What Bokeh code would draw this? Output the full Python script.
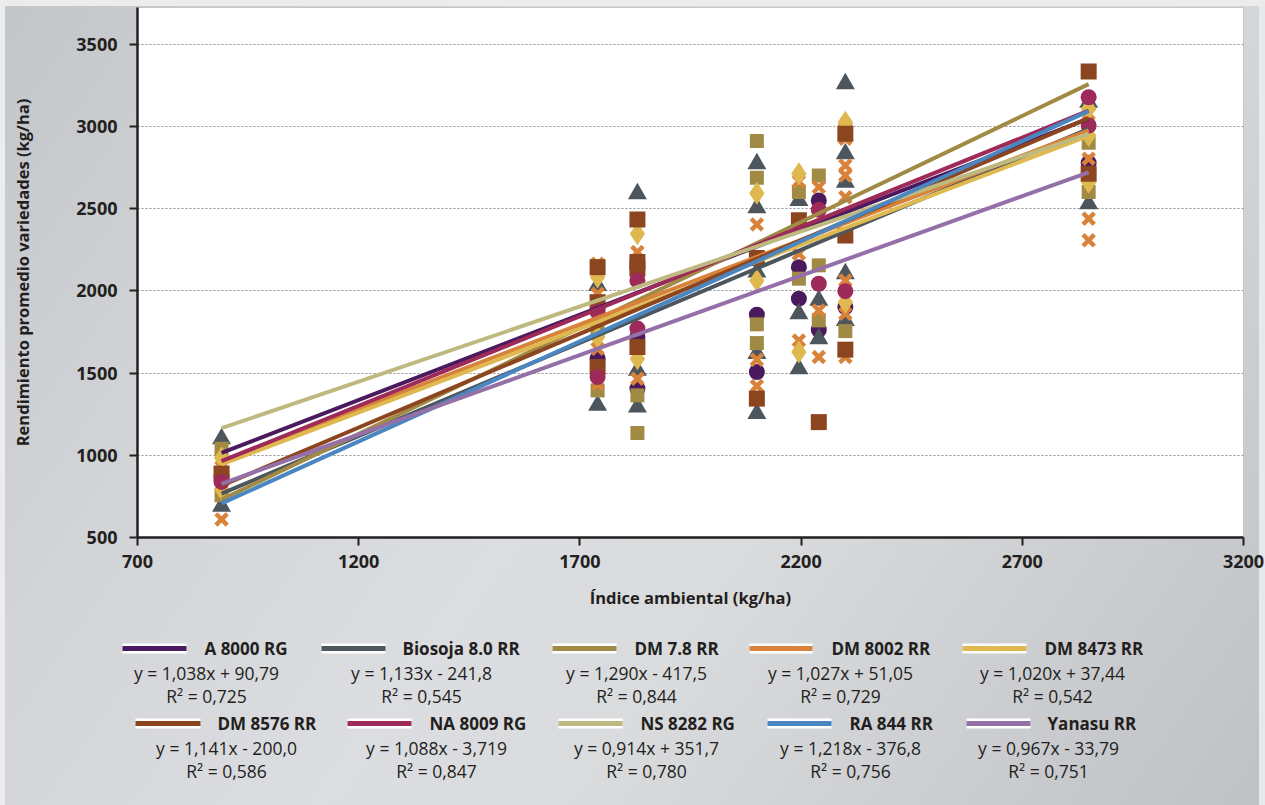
from bokeh.plotting import figure
from bokeh.models import Range1d, FixedTicker
from bokeh.layouts import column
from bokeh.embed import file_html
from bokeh.resources import INLINE
from bokeh.core.properties import value

# ---------------- data ----------------
series_names = ["A 8000 RG", "Biosoja 8.0 RR", "DM 7.8 RR", "DM 8002 RR", "DM 8473 RR",
                "DM 8576 RR", "NA 8009 RG", "NS 8282 RG", "RA 844 RR", "Yanasu RR"]
slopes = [1.038, 1.133, 1.290, 1.027, 1.020, 1.141, 1.088, 0.914, 1.218, 0.967]
intercepts = [90.79, -241.8, -417.5, 51.05, 37.44, -200.0, -3.719, 351.7, -376.8, -33.79]
equations = ["y = 1,038x + 90,79", "y = 1,133x - 241,8", "y = 1,290x - 417,5",
             "y = 1,027x + 51,05", "y = 1,020x + 37,44", "y = 1,141x - 200,0",
             "y = 1,088x - 3,719", "y = 0,914x + 351,7", "y = 1,218x - 376,8",
             "y = 0,967x - 33,79"]
r2_labels = ["R² = 0,725", "R² = 0,545", "R² = 0,844", "R² = 0,729", "R² = 0,542",
             "R² = 0,586", "R² = 0,847", "R² = 0,780", "R² = 0,756", "R² = 0,751"]
colors = ["#4b1a5e", "#4e565d", "#a08a44", "#d8823a", "#dfb94f",
          "#8c461f", "#9d2a58", "#bdb97f", "#4a86c1", "#9570a8"]
index_min = 890
index_max = 2850

a8000_x = [890, 1740, 1830, 1830, 2100, 2100, 2195, 2195, 2240, 2240, 2300, 2850]
a8000_y = [870, 1588, 1720, 1406, 1856, 1507, 2145, 1953, 2551, 1764, 1902, 2780]

biosoja_x = [890, 890, 1740, 1740, 1830, 1830, 1830, 2100, 2100, 2100, 2100, 2100,
             2195, 2195, 2195, 2240, 2240, 2300, 2300, 2300, 2300, 2300, 2850, 2850]
biosoja_y = [1101, 690, 2034, 1304, 2592, 1517, 1294, 2774, 2506, 2115, 1620, 1254,
             2551, 1862, 1527, 1943, 1710, 3261, 2835, 2662, 2105, 1821, 3149, 2531]

dm78_x = [890, 890, 1740, 1740, 1830, 1830, 2100, 2100, 2100, 2100, 2195, 2195,
          2240, 2240, 2240, 2300, 2300, 2850, 2850]
dm78_y = [1040, 757, 1760, 1395, 1365, 1136, 2912, 2689, 1797, 1683, 2602, 2075,
          2703, 2156, 1821, 2987, 1756, 2902, 2602]

dm8002_x = [890, 890, 1740, 1740, 1740, 1740, 1830, 1830, 1830, 2100, 2100, 2100,
            2195, 2195, 2195, 2240, 2240, 2240, 2300, 2300, 2300, 2300, 2300, 2300,
            2300, 2850, 2850, 2850, 2850]
dm8002_y = [929, 610, 2166, 1983, 1649, 1436, 2237, 2125, 1466, 2405, 1582, 1422,
            2667, 2227, 1699, 2632, 1882, 1598, 2926, 2764, 2703, 2571, 2064, 1862,
            1598, 3078, 2805, 2440, 2308]

dm8473_x = [890, 890, 1740, 1740, 1830, 1830, 2100, 2100, 2195, 2195, 2300, 2300,
            2850, 2850, 2850]
dm8473_y = [983, 793, 2085, 1720, 2349, 1588, 2595, 2064, 2713, 1628, 3027, 1932,
            3109, 2946, 2662]

dm8576_x = [890, 1740, 1740, 1740, 1830, 1830, 1830, 1830, 2100, 2100, 2195, 2240,
            2300, 2300, 2300, 2850, 2850]
dm8576_y = [890, 2145, 1932, 1537, 2435, 2176, 2136, 1659, 2200, 1345, 2430, 1202,
            2957, 2338, 1643, 3336, 2713]

na8009_x = [890, 1740, 1740, 1830, 1830, 2240, 2240, 2300, 2850, 2850]
na8009_y = [838, 1872, 1476, 2064, 1771, 2494, 2044, 1999, 3179, 3007]

x_ticks = [700, 1200, 1700, 2200, 2700, 3200]
y_ticks = [500, 1000, 1500, 2000, 2500, 3000, 3500]

# ---------------- style ----------------
FONT = "Open Sans"
TXT = "#231f20"
GRADIENT = ("linear-gradient(125deg, #c3c6c9 0%, #d2d4d7 25%, #dcdde0 48%, "
            "#d9dbdd 62%, #c9cbce 85%, #bfc2c5 100%)")

W = 1265
H_MAIN = 620
H_LEG = 185

p = figure(width=W, height=H_MAIN, output_backend="svg", toolbar_location=None,
           x_range=Range1d(700, 3200), y_range=Range1d(500, 3725),
           min_border_left=137, min_border_right=22, min_border_top=7,
           min_border_bottom=83)
p.frame_align = False
p.border_fill_color = None
p.background_fill_color = "white"
p.outline_line_color = "#c4c8cc"
p.outline_line_width = 1

p.xgrid.visible = False
p.ygrid.ticker = FixedTicker(ticks=y_ticks)
p.ygrid.grid_line_color = "#8f8f8f"
p.ygrid.grid_line_dash = "2 2"
p.ygrid.grid_line_width = 1

p.xaxis.ticker = FixedTicker(ticks=x_ticks)
p.yaxis.ticker = FixedTicker(ticks=y_ticks)
for ax in (p.xaxis[0], p.yaxis[0]):
    ax.axis_line_color = TXT
    ax.axis_line_width = 2.5
    ax.major_tick_line_color = TXT
    ax.major_tick_line_width = 2
    ax.major_tick_out = 8
    ax.major_tick_in = 0
    ax.minor_tick_line_color = None
    ax.major_label_text_font = FONT
    ax.major_label_text_font_style = "bold"
    ax.major_label_text_font_size = "18px"
    ax.major_label_text_color = TXT
    ax.axis_label_text_font = FONT
    ax.axis_label_text_font_style = "bold"
    ax.axis_label_text_font_size = "16.5px"
    ax.axis_label_text_color = TXT

p.xaxis.axis_label = "Índice ambiental (kg/ha)"
p.yaxis.axis_label = "Rendimiento promedio variedades (kg/ha)"
p.xaxis.major_label_standoff = 9
p.xaxis.axis_label_standoff = 15
p.yaxis.major_label_standoff = 12
p.yaxis.axis_label_standoff = 39

# markers (series order, later series on top)
p.scatter(a8000_x, a8000_y, marker="circle", size=16, fill_color=colors[0], line_color=None)
p.scatter(biosoja_x, biosoja_y, marker="triangle", size=19, fill_color=colors[1], line_color=None)
p.scatter(dm78_x, dm78_y, marker="square", size=14, fill_color=colors[2], line_color=None)
p.scatter(dm8002_x, dm8002_y, marker="x", size=16, line_color=colors[3], line_width=4.5)
p.scatter(dm8473_x, dm8473_y, marker="diamond", size=23, fill_color=colors[4], line_color=None)
p.scatter(dm8576_x, dm8576_y, marker="square", size=16, fill_color=colors[5], line_color=None)
p.scatter(na8009_x, na8009_y, marker="circle", size=16, fill_color=colors[6], line_color=None)

# linear trend lines from the printed equations
for s, b, c in zip(slopes, intercepts, colors):
    xs = [index_min, index_max]
    ys = [s * index_min + b, s * index_max + b]
    p.line(xs, ys, line_color=c, line_width=4)

# ---------------- legend panel ----------------
leg = figure(width=W, height=H_LEG, output_backend="svg", toolbar_location=None,
             x_axis_type=None, y_axis_type=None,
             x_range=Range1d(0, W), y_range=Range1d(H_MAIN + H_LEG, H_MAIN),
             min_border=0, min_border_left=0, min_border_right=0,
             min_border_top=0, min_border_bottom=0)
leg.frame_align = False
leg.grid.visible = False
leg.outline_line_color = None
leg.border_fill_color = None
leg.background_fill_color = None

sample_x0 = [122, 321, 552, 749, 962, 135, 347, 558, 767, 966]
sample_x1 = [186, 385, 616, 812, 1026, 200, 411, 622, 831, 1030]
name_x = [204, 402, 634, 831, 1044, 217, 429, 640, 849, 1047]
eq_x = [206, 421, 636, 840, 1052, 226, 436, 646, 850, 1048]
row_y = [648, 648, 648, 648, 648, 723, 723, 723, 723, 723]

leg.segment(sample_x0, row_y, sample_x1, row_y, line_color="white", line_width=10)
leg.segment(sample_x0, row_y, sample_x1, row_y, line_color=colors, line_width=5)
leg.text(name_x, row_y, text=series_names, text_font=value(FONT), text_font_style="bold",
         text_font_size="17px", text_color=TXT, text_align="left", text_baseline="middle")
leg.text(eq_x, [y + 24 for y in row_y], text=equations, text_font=value(FONT),
         text_font_size="17.5px", text_color=TXT, text_align="center", text_baseline="middle")
leg.text(eq_x, [y + 47 for y in row_y], text=r2_labels, text_font=value(FONT),
         text_font_size="17.5px", text_color=TXT, text_align="center", text_baseline="middle")

layout = column(p, leg, spacing=0, styles={
    "background": GRADIENT,
    "box-shadow": "inset 5px 6px 0 0 #ececec, inset -6px 0 0 0 #e8e9ea",
})
open("out.html", "w").write(file_html(layout, INLINE))
